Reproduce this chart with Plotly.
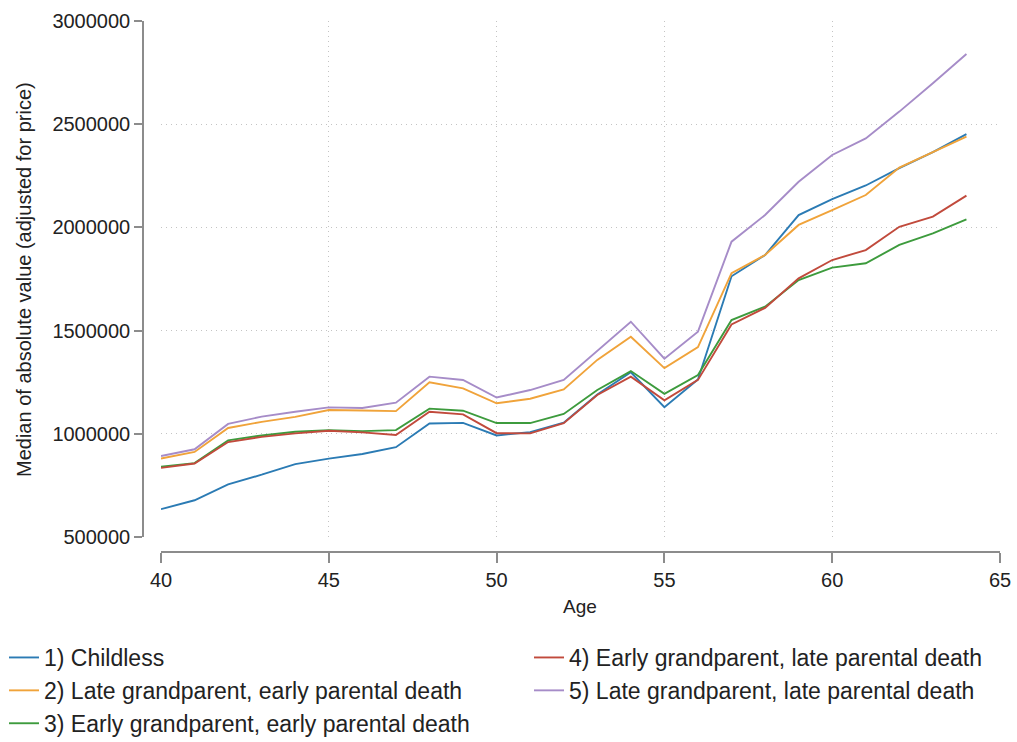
import plotly.graph_objects as go

ages = list(range(40, 65))

childless = [635000, 678000, 755000, 802000, 853000, 880000, 902000, 935000, 1050000, 1053000,
             992000, 1008000, 1054000, 1190000, 1298000, 1129000, 1263000, 1763000, 1866000, 2060000,
             2137000, 2203000, 2287000, 2365000, 2452000]
late_gp_early_pd = [880000, 912000, 1028000, 1058000, 1082000, 1115000, 1113000, 1110000, 1250000, 1220000,
                    1148000, 1170000, 1215000, 1358000, 1470000, 1318000, 1420000, 1778000, 1866000, 2012000,
                    2084000, 2157000, 2290000, 2365000, 2440000]
early_gp_early_pd = [840000, 858000, 968000, 992000, 1010000, 1018000, 1013000, 1018000, 1122000, 1112000,
                     1052000, 1052000, 1096000, 1212000, 1304000, 1194000, 1285000, 1551000, 1616000, 1745000,
                     1805000, 1826000, 1915000, 1971000, 2039000]
early_gp_late_pd = [835000, 856000, 960000, 985000, 1002000, 1015000, 1007000, 994000, 1107000, 1094000,
                    1003000, 1002000, 1051000, 1188000, 1277000, 1162000, 1261000, 1530000, 1610000, 1753000,
                    1842000, 1890000, 2003000, 2052000, 2154000]
late_gp_late_pd = [892000, 925000, 1048000, 1083000, 1107000, 1128000, 1125000, 1151000, 1277000, 1261000,
                   1176000, 1212000, 1261000, 1403000, 1543000, 1364000, 1495000, 1931000, 2060000, 2221000,
                   2351000, 2431000, 2561000, 2698000, 2840000]

series_names = [
    "1) Childless",
    "2) Late grandparent, early parental death",
    "3) Early grandparent, early parental death",
    "4) Early grandparent, late parental death",
    "5) Late grandparent, late parental death",
]
series_values = [childless, late_gp_early_pd, early_gp_early_pd, early_gp_late_pd, late_gp_late_pd]
colors = ["#2b7bb4", "#f0a33a", "#3d9b3d", "#c14a3c", "#a68cc8"]
legend_groups = ["legend", "legend", "legend", "legend2", "legend2"]

y_ticks = [500000, 1000000, 1500000, 2000000, 2500000, 3000000]
x_ticks = [40, 45, 50, 55, 60, 65]

W, H = 1017, 742


def px(xs):
    return xs / W


def py(ys):
    return 1 - ys / H


FONT = "Liberation Sans, Arial, sans-serif"
TXT = "#222222"
AX = "#8c8c8c"
GRID = "#c4c4c4"

fig = go.Figure()
for name, vals, col, lg in zip(series_names, series_values, colors, legend_groups):
    fig.add_trace(go.Scatter(x=ages, y=vals, mode="lines", name=name,
                             line=dict(color=col, width=1.9), legend=lg))

legend_common = dict(
    orientation="v", xanchor="left", yanchor="top", y=py(636),
    font=dict(size=23, color=TXT), bgcolor="rgba(0,0,0,0)",
    tracegroupgap=0, itemwidth=30, borderwidth=0,
)

fig.update_layout(
    template="none",
    width=W, height=H,
    margin=dict(l=0, r=0, t=0, b=0, autoexpand=False),
    paper_bgcolor="white", plot_bgcolor="white",
    font=dict(family=FONT, color=TXT, size=20),
    xaxis=dict(
        domain=[px(161), px(1000)], range=[40, 65],
        anchor="free", position=py(552),
        tickvals=x_ticks, ticktext=[str(t) for t in x_ticks],
        ticks="outside", ticklen=10, tickwidth=1.5, tickcolor=AX,
        showline=True, linecolor=AX, linewidth=1.5,
        showgrid=True, gridcolor=GRID, griddash="1px,4px", gridwidth=1,
        zeroline=False, automargin=False, ticklabeloverflow="allow",
        tickfont=dict(size=20, color=TXT),
    ),
    yaxis=dict(
        domain=[py(537), py(21)], range=[500000, 3000000],
        anchor="free", position=px(143),
        tickvals=y_ticks, ticktext=[str(t) for t in y_ticks],
        ticks="outside", ticklen=8, tickwidth=1.5, tickcolor=AX,
        showline=True, linecolor=AX, linewidth=1.5,
        showgrid=True, gridcolor=GRID, griddash="1px,4px", gridwidth=1,
        zeroline=False, automargin=False, ticklabeloverflow="allow",
        tickfont=dict(size=20, color=TXT),
    ),
    showlegend=True,
    legend=dict(x=px(4), **legend_common),
    legend2=dict(x=px(529), **legend_common),
    annotations=[
        dict(text="Median of absolute value (adjusted for price)",
             x=px(24), y=py(280), xref="paper", yref="paper",
             textangle=-90, showarrow=False, font=dict(size=20, color=TXT),
             xanchor="center", yanchor="middle"),
        dict(text="Age",
             x=px(580), y=py(606), xref="paper", yref="paper",
             showarrow=False, font=dict(size=19, color=TXT),
             xanchor="center", yanchor="middle"),
    ],
)

fig.write_html("out.html",
               config={"displayModeBar": False},
               post_script="document.body.style.margin='0px';document.body.style.overflow='hidden';")
